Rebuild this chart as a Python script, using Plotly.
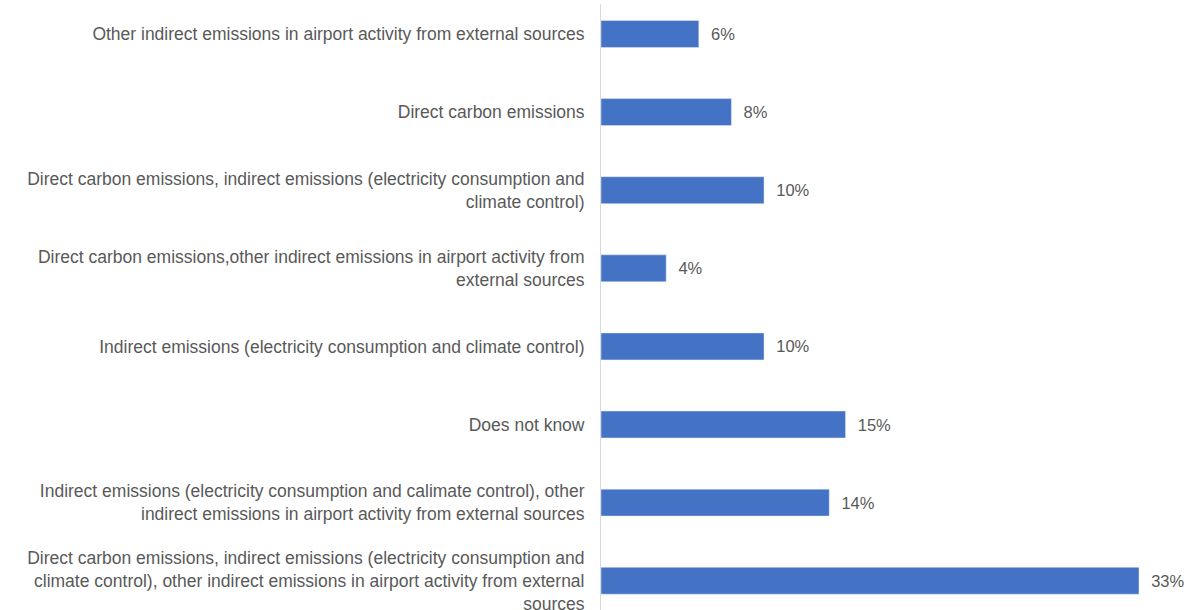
import plotly.graph_objects as go

categories = [
    "Other indirect emissions in airport activity from external sources",
    "Direct carbon emissions",
    "Direct carbon emissions, indirect emissions (electricity consumption and<br>climate control)",
    "Direct carbon emissions,other indirect emissions in airport activity from<br>external sources",
    "Indirect emissions (electricity consumption and climate control)",
    "Does not know",
    "Indirect emissions (electricity consumption and calimate control), other<br>indirect emissions in airport activity from external sources",
    "Direct carbon emissions, indirect emissions (electricity consumption and<br>climate control), other indirect emissions in airport activity from external<br>sources",
]
values = [6, 8, 10, 4, 10, 15, 14, 33]
labels = [f"{v}%" for v in values]

GRAY = "#595959"
FONT = "Liberation Sans"

fig = go.Figure(go.Bar(
    x=values,
    y=list(range(len(categories))),
    orientation="h",
    marker=dict(color="#4472C4"),
    width=0.345,
    text=labels,
    texttemplate="  %{text}",
    textposition="outside",
    textfont=dict(family=FONT, size=16.5, color=GRAY),
    cliponaxis=False,
    hoverinfo="skip",
))

fig.update_layout(
    width=1192, height=610,
    margin=dict(l=601, r=0, t=4, b=0),
    plot_bgcolor="white", paper_bgcolor="white",
    showlegend=False,
    font=dict(family=FONT, size=17.5, color=GRAY),
    xaxis=dict(range=[0, 36.25], showgrid=False, zeroline=False,
               showticklabels=False, showline=False, automargin=False),
    yaxis=dict(range=[7.375, -0.384], tickmode="array",
               tickvals=list(range(len(categories))), ticktext=categories,
               showgrid=False, zeroline=False, showline=True,
               linecolor="#D9D9D9", linewidth=1, ticks="",
               ticklabelstandoff=12, ticklabeloverflow="allow",
               automargin=False,
               tickfont=dict(family=FONT, size=17.5, color=GRAY)),
)

fig.write_html("out.html", config={"displayModeBar": False},
               post_script="document.body.style.margin='0';document.body.style.overflow='hidden';")
